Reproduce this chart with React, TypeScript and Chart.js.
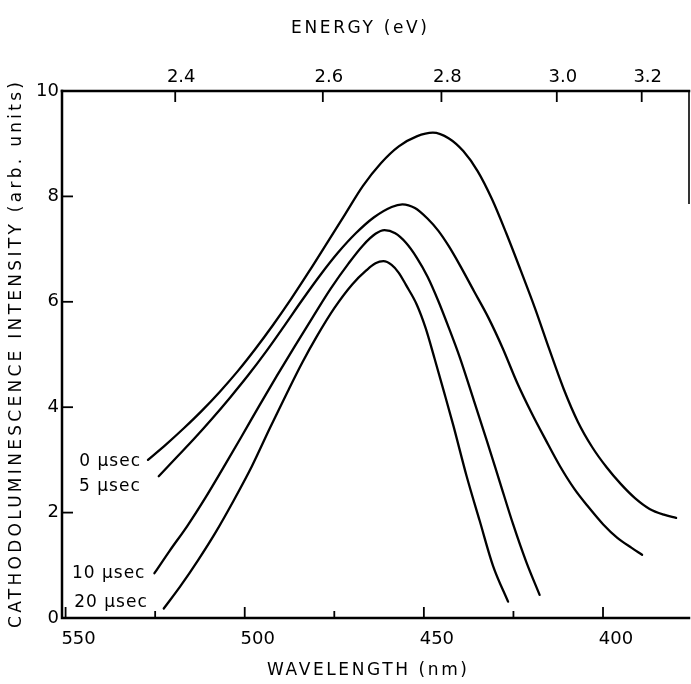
import React, { useEffect, useRef } from "react";
import { Chart, registerables } from "chart.js";

Chart.register(...registerables);

// ---- data ----
const seriesLabels = ["0 µsec", "5 µsec", "10 µsec", "20 µsec"];

const wl0 = [527.0, 522, 517, 512, 507, 502, 497, 492, 487, 482, 477, 472, 467, 462, 457, 452, 447.5, 443, 439, 435, 431, 427, 423, 419, 415, 411, 407, 403, 399, 395, 391, 387, 383, 379.6];
const int0 = [3.0, 3.29, 3.6, 3.93, 4.29, 4.68, 5.11, 5.57, 6.06, 6.58, 7.12, 7.66, 8.2, 8.63, 8.95, 9.14, 9.21, 9.1, 8.86, 8.48, 7.95, 7.3, 6.6, 5.88, 5.1, 4.35, 3.72, 3.24, 2.86, 2.54, 2.27, 2.07, 1.96, 1.9];

const wl5 = [524, 519, 514, 509, 504, 499, 494, 489, 484, 479, 474, 469, 464, 459, 456, 452.5, 449, 446, 443, 440, 436, 432, 428, 424, 420, 416, 412, 408, 404, 400, 396, 392, 389.1];
const int5 = [2.69, 3.05, 3.41, 3.79, 4.19, 4.61, 5.06, 5.54, 6.03, 6.5, 6.93, 7.3, 7.6, 7.8, 7.85, 7.78, 7.58, 7.35, 7.05, 6.7, 6.2, 5.7, 5.12, 4.47, 3.9, 3.38, 2.88, 2.45, 2.1, 1.78, 1.52, 1.33, 1.2];

const wl10 = [525.2, 521, 516, 511, 506, 501, 496, 491, 486, 481, 476, 471, 467, 463.5, 461, 458, 455, 452, 449, 446, 443, 440, 436.3, 432.5, 428.8, 425.1, 421.4, 417.7];
const int10 = [0.85, 1.27, 1.75, 2.28, 2.85, 3.43, 4.02, 4.6, 5.16, 5.71, 6.25, 6.73, 7.07, 7.29, 7.36, 7.3, 7.12, 6.84, 6.48, 6.02, 5.5, 4.95, 4.18, 3.38, 2.58, 1.78, 1.06, 0.44];

const wl20 = [522.6, 518, 513, 508, 503, 498, 493, 488, 484, 480, 475, 470, 466, 463.5, 461.3, 459, 457, 455, 452, 449.5, 447, 444.5, 441.8, 438.1, 434.4, 430.7, 426.5];
const int20 = [0.18, 0.6, 1.1, 1.64, 2.24, 2.88, 3.6, 4.3, 4.84, 5.33, 5.88, 6.33, 6.6, 6.73, 6.77, 6.7, 6.55, 6.32, 5.95, 5.5, 4.92, 4.32, 3.66, 2.7, 1.84, 0.99, 0.31];

const wavelengthTicks = [550, 525, 500, 475, 450, 425, 400];
const wavelengthLabels = [550, 500, 450, 400];
const energyTickLabels = ["2.4", "2.6", "2.8", "3.0", "3.2"];
const energyTickWavelengths = [519.4, 478.2, 445.1, 412.9, 389.2];
const intensityTicks = [0, 2, 4, 6, 8, 10];

const xTitle = "WAVELENGTH (nm)";
const x2Title = "ENERGY (eV)";
const yTitle = "CATHODOLUMINESCENCE INTENSITY (arb. units)";

// ---- style ----
const FONT = "'DejaVu Sans', sans-serif";
const X_MIN = 376;
const X_MAX = 551;
const RIGHT_BORDER_END = 7.87;
const labelOffsets = [
  [-7, 2],
  [-18, 10],
  [-9, 0],
  [-16, -6],
];

const series = [
  { wl: wl0, it: int0 },
  { wl: wl5, it: int5 },
  { wl: wl10, it: int10 },
  { wl: wl20, it: int20 },
];

function spacedText(ctx: CanvasRenderingContext2D, text: string, x: number, y: number, width: number) {
  (ctx as any).letterSpacing = "0px";
  const w = ctx.measureText(text).width;
  const sp = (width - w) / (text.length - 1);
  (ctx as any).letterSpacing = sp + "px";
  ctx.textAlign = "left";
  ctx.fillText(text, x - width / 2, y);
  (ctx as any).letterSpacing = "0px";
}

const decorPlugin = {
  id: "decor",
  afterDraw(chart: any) {
    const { ctx, chartArea } = chart;
    const { left, right, top, bottom } = chartArea;
    const x = chart.scales.x;
    const y = chart.scales.y;
    ctx.save();
    ctx.strokeStyle = "#000";
    ctx.fillStyle = "#000";
    ctx.lineCap = "square";
    ctx.lineWidth = 2.5;
    ctx.beginPath();
    ctx.moveTo(left, top);
    ctx.lineTo(left, bottom);
    ctx.lineTo(right, bottom);
    ctx.stroke();
    ctx.beginPath();
    ctx.moveTo(left, top);
    ctx.lineTo(right, top);
    ctx.stroke();
    ctx.lineWidth = 1.6;
    ctx.beginPath();
    ctx.moveTo(right, top);
    ctx.lineTo(right, y.getPixelForValue(RIGHT_BORDER_END));
    ctx.stroke();

    ctx.lineCap = "butt";
    ctx.lineWidth = 1.8;
    wavelengthTicks.forEach((v) => {
      const px = x.getPixelForValue(v);
      const len = wavelengthLabels.includes(v) ? 11 : 7;
      ctx.beginPath();
      ctx.moveTo(px, bottom);
      ctx.lineTo(px, bottom - len);
      ctx.stroke();
    });
    energyTickWavelengths.forEach((v) => {
      const px = x.getPixelForValue(v);
      ctx.beginPath();
      ctx.moveTo(px, top);
      ctx.lineTo(px, top + 11);
      ctx.stroke();
    });
    intensityTicks.forEach((v) => {
      if (v <= 0 || v >= 10) return;
      const py = y.getPixelForValue(v);
      ctx.beginPath();
      ctx.moveTo(left, py);
      ctx.lineTo(left + 11, py);
      ctx.stroke();
    });

    // curve labels
    ctx.font = `17px ${FONT}`;
    ctx.textBaseline = "middle";
    ctx.textAlign = "right";
    (ctx as any).letterSpacing = "1px";
    series.forEach((s, i) => {
      const px = x.getPixelForValue(s.wl[0]);
      const py = y.getPixelForValue(s.it[0]);
      ctx.fillText(seriesLabels[i], px + labelOffsets[i][0], py + labelOffsets[i][1]);
    });
    (ctx as any).letterSpacing = "0px";

    // titles
    ctx.font = `17px ${FONT}`;
    ctx.textBaseline = "alphabetic";
    spacedText(ctx, x2Title, 359, 33, 136);
    spacedText(ctx, xTitle, 367, 675, 200);
    ctx.save();
    ctx.translate(21, 355);
    ctx.rotate(-Math.PI / 2);
    spacedText(ctx, yTitle, 0, 0, 546);
    ctx.restore();
    ctx.restore();
  },
};

export default function App() {
  const ref = useRef<HTMLCanvasElement | null>(null);
  useEffect(() => {
    document.body.style.margin = "0";
    const canvas = ref.current!;
    const chart = new Chart(canvas, {
      type: "line",
      data: {
        datasets: series.map((s, i) => ({
          label: seriesLabels[i],
          data: s.wl.map((w, j) => ({ x: w, y: s.it[j] })),
          borderColor: "#000",
          borderWidth: 2.3,
          pointRadius: 0,
          cubicInterpolationMode: "monotone" as const,
          borderCapStyle: "round" as const,
          borderJoinStyle: "round" as const,
          fill: false,
        })),
      },
      options: {
        responsive: false,
        animation: false,
        layout: { padding: { left: 0, right: 2, top: 0, bottom: 0 } },
        plugins: { legend: { display: false }, tooltip: { enabled: false }, title: { display: false } },
        scales: {
          x: {
            type: "linear",
            position: "bottom",
            reverse: true,
            min: X_MIN,
            max: X_MAX,
            afterBuildTicks: (s: any) => {
              s.ticks = wavelengthTicks.map((v) => ({ value: v }));
            },
            afterFit: (s: any) => {
              s.height = 66;
            },
            ticks: {
              autoSkip: false,
              maxRotation: 0,
              padding: 11,
              labelOffset: 13,
              color: "#000",
              font: { family: FONT, size: 18 },
              callback: (v: any) => (wavelengthLabels.includes(Number(v)) ? String(v) : ""),
            },
            grid: { display: false, drawTicks: false },
            border: { display: false },
          },
          x2: {
            type: "linear",
            position: "top",
            reverse: true,
            min: X_MIN,
            max: X_MAX,
            afterBuildTicks: (s: any) => {
              s.ticks = energyTickWavelengths.map((v) => ({ value: v }));
            },
            afterFit: (s: any) => {
              s.height = 91;
            },
            ticks: {
              autoSkip: false,
              maxRotation: 0,
              padding: 3,
              labelOffset: 6,
              color: "#000",
              font: { family: FONT, size: 18 },
              callback: (_v: any, i: number) => energyTickLabels[i],
            },
            grid: { display: false, drawTicks: false },
            border: { display: false },
          },
          y: {
            type: "linear",
            min: 0,
            max: 10,
            afterBuildTicks: (s: any) => {
              s.ticks = intensityTicks.map((v) => ({ value: v }));
            },
            afterFit: (s: any) => {
              s.width = 62;
            },
            ticks: {
              padding: 3,
              color: "#000",
              font: { family: FONT, size: 18 },
            },
            grid: { display: false, drawTicks: false },
            border: { display: false },
          },
        },
      },
      plugins: [decorPlugin],
    } as any);
    return () => chart.destroy();
  }, []);
  return <canvas ref={ref} width={691} height={684} style={{ display: "block" }} />;
}
